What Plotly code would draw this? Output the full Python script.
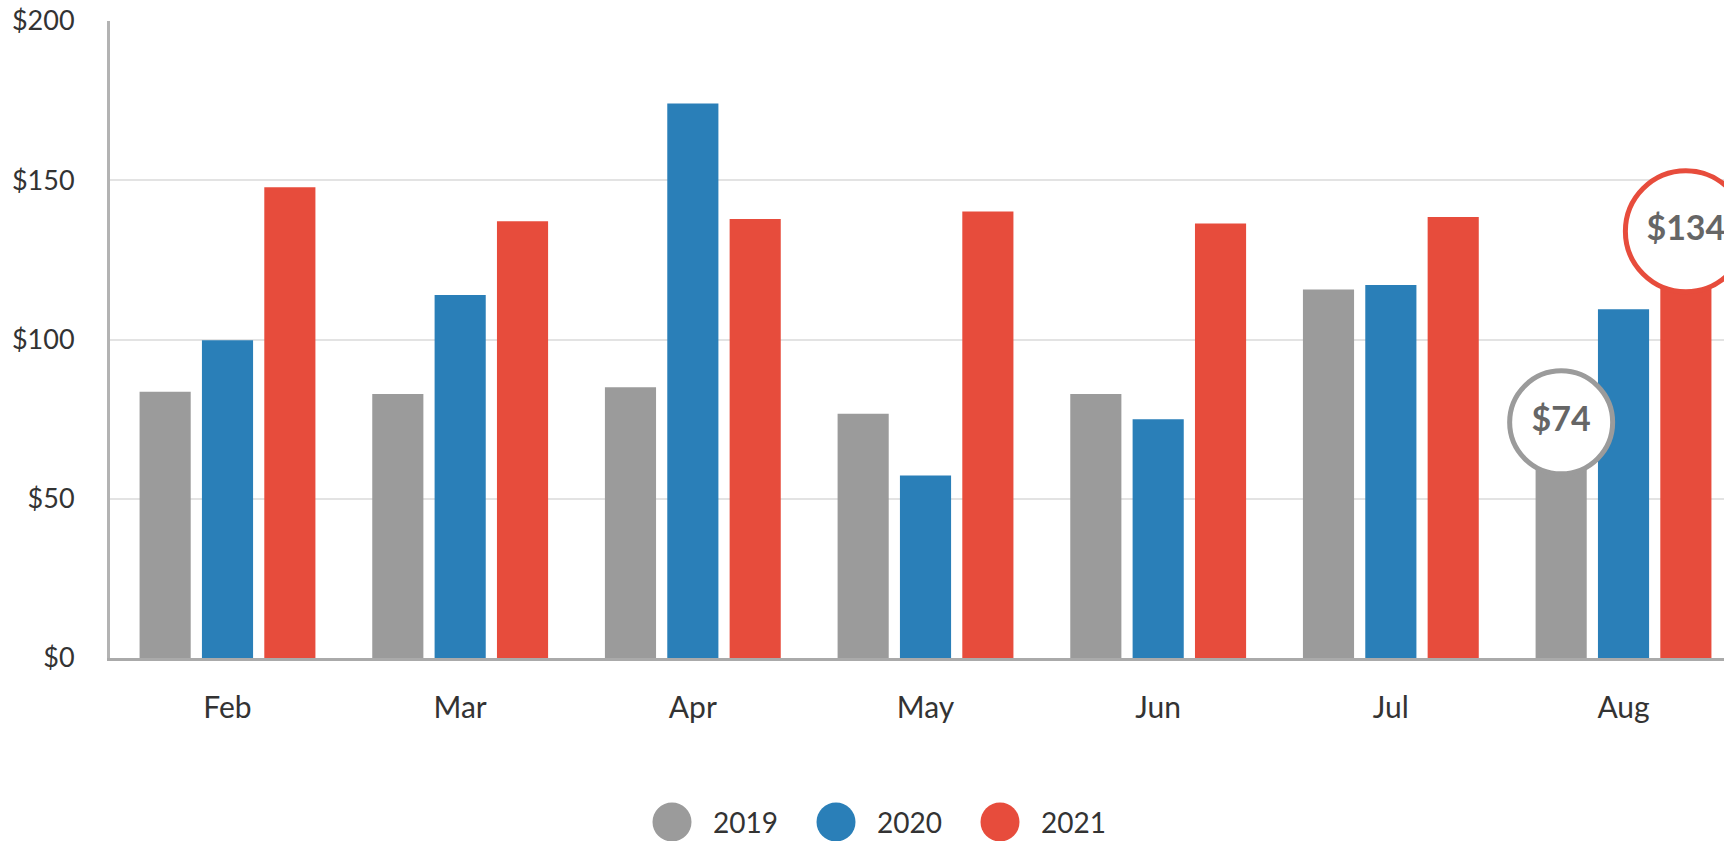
import plotly.graph_objects as go

months = ["Feb", "Mar", "Apr", "May", "Jun", "Jul", "Aug"]
years = ["2019", "2020", "2021"]
v2019 = [83.6, 82.9, 85.0, 76.7, 82.9, 115.7, 74]
v2020 = [99.8, 114.0, 174.1, 57.3, 75.0, 117.1, 109.5]
v2021 = [147.8, 137.1, 137.8, 140.2, 136.4, 138.5, 134]
colors = ["#9b9b9b", "#2a7fb8", "#e74c3c"]
yticks = [0, 50, 100, 150, 200]
ytick_labels = ["$" + str(v) for v in yticks]

W, H = 1724, 841
ML, MR, MT, MB = 110, 0, 21, 183
BARGAP, GROUPGAP = 0.196, 0.18
FONT = "Lato"
TXT = "#333333"

xs = list(range(len(months)))
series = [v2019, v2020, v2021]

fig = go.Figure()
for name, vals, col in zip(years, series, colors):
    fig.add_trace(go.Bar(x=xs, y=vals, name=name, marker=dict(color=col, line=dict(width=0)),
                         showlegend=False, hoverinfo="skip"))

# highlight bubbles on last month (2019 and 2021 bars)
slot = (1 - BARGAP) / len(series)
last = len(months) - 1
for si, size in [(0, 103), (2, 121)]:
    val = series[si][last]
    xpos = last + (si - 1) * slot
    fig.add_trace(go.Scatter(
        x=[xpos], y=[val], mode="markers+text",
        marker=dict(size=size, color="white", line=dict(color=colors[si], width=5)),
        text=["$" + str(val)], textposition="middle center",
        textfont=dict(family=FONT, size=34, color="#666666", weight=700),
        cliponaxis=False, showlegend=False, hoverinfo="skip"))

plot_w = W - ML - MR
plot_h = H - MT - MB

def px_to_paper(px, py):
    return (px - ML) / plot_w, (H - MB - py) / plot_h

shapes = []
annotations = []
legend_cx = [672, 836, 1000]
legend_cy = 822
for name, col, cx in zip(years, colors, legend_cx):
    xp, yp = px_to_paper(cx, legend_cy)
    shapes.append(dict(type="circle", xref="paper", yref="paper", xsizemode="pixel", ysizemode="pixel",
                       xanchor=xp, yanchor=yp, x0=-19.5, x1=19.5, y0=-19.5, y1=19.5,
                       fillcolor=col, line=dict(width=0)))
    tx, _ = px_to_paper(cx + 39, legend_cy)
    annotations.append(dict(x=tx, y=yp, xref="paper", yref="paper", text=name, showarrow=False,
                            xanchor="left", yanchor="middle", font=dict(family=FONT, size=28, color=TXT)))

unit = 232.67
x0 = -0.5 - (227.5 - ML - unit / 2) / unit
x1 = x0 + plot_w / unit

fig.update_layout(
    width=W, height=H, margin=dict(l=ML, r=MR, t=MT, b=MB, pad=0),
    paper_bgcolor="white", plot_bgcolor="white",
    barmode="group", bargap=BARGAP, bargroupgap=GROUPGAP,
    font=dict(family=FONT, size=28, color=TXT),
    shapes=shapes, annotations=annotations, showlegend=False,
    xaxis=dict(range=[x0, x1], tickmode="array", tickvals=xs, ticktext=months,
               showgrid=False, zeroline=False, showline=True, linecolor="#aaaaaa", linewidth=3,
               ticks="", ticklabelstandoff=21, tickfont=dict(family=FONT, size=30, color=TXT), fixedrange=True),
    yaxis=dict(range=[0, 200], tickmode="array", tickvals=yticks, ticktext=ytick_labels,
               showgrid=True, gridcolor="#e3e3e3", gridwidth=2, zeroline=False,
               showline=True, linecolor="#b3b3b3", linewidth=3, ticks="", ticklabelstandoff=27,
               tickfont=dict(family=FONT, size=27, color=TXT), fixedrange=True),
)

fig.write_html("out.html", config={"displayModeBar": False},
               post_script="document.body.style.margin='0';document.body.style.overflow='hidden';")
